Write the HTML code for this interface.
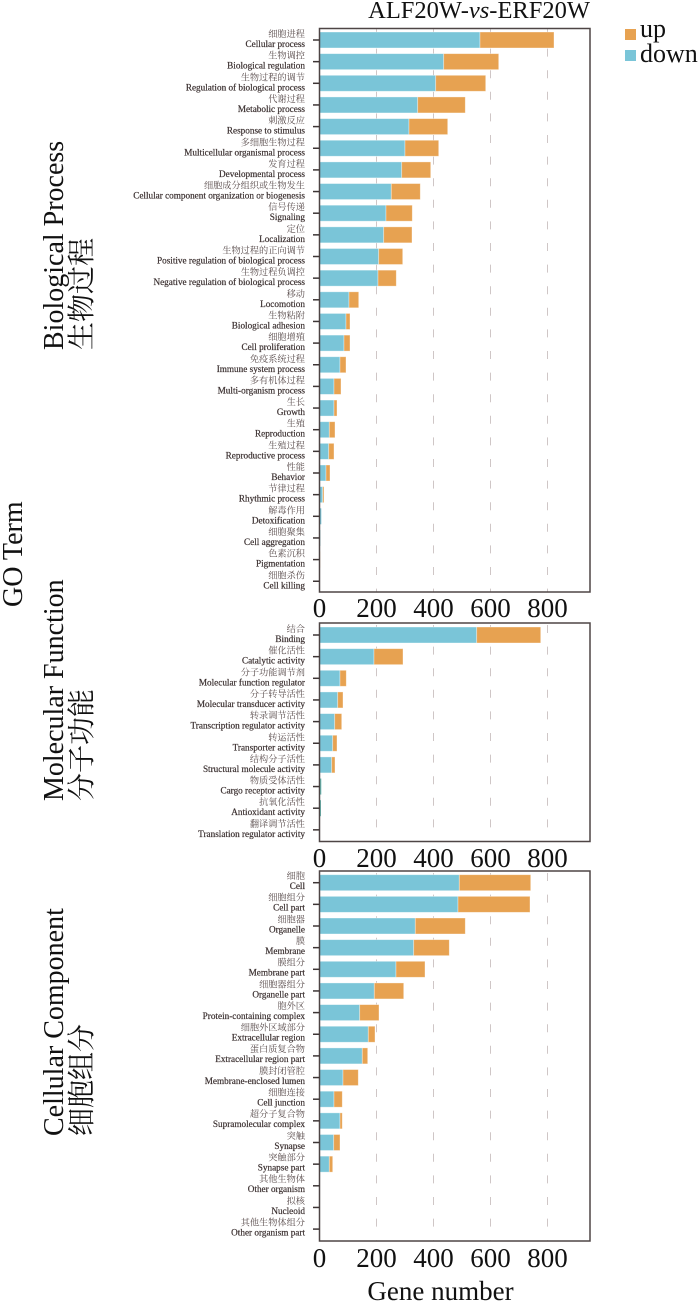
<!DOCTYPE html>
<html>
<head>
<meta charset="utf-8">
<style>
html,body{margin:0;padding:0;background:#fff;}
svg{display:block;}
.en{font-family:"Liberation Serif","Noto Serif CJK SC",serif;font-size:9.2px;fill:#3a2f2f;stroke:#3a2f2f;stroke-width:0.2px;}
.cn{font-family:"Liberation Serif","Noto Serif CJK SC",serif;font-size:9.2px;fill:#5a4d4d;}
.tk{font-family:"Liberation Serif",serif;font-size:27px;fill:#111;}
.big{font-family:"Liberation Serif","Noto Serif CJK SC",serif;font-size:28px;fill:#111;}
</style>
</head>
<body>
<svg width="700" height="1304" viewBox="0 0 700 1304" xmlns="http://www.w3.org/2000/svg">
<rect width="700" height="1304" fill="#fff"/>

<!-- Title -->
<text x="590" y="18" text-anchor="end" font-family="Liberation Serif, serif" font-size="24.5" fill="#111">ALF20W-<tspan font-style="italic">vs</tspan>-ERF20W</text>

<!-- Legend -->
<rect x="625" y="29" width="11" height="11" fill="#E7A251"/>
<text x="640" y="37" font-family="Liberation Serif, serif" font-size="26" fill="#111">up</text>
<rect x="625" y="50" width="11" height="11" fill="#7AC5D8"/>
<text x="640" y="62" font-family="Liberation Serif, serif" font-size="26" fill="#111">down</text>

<!-- Left titles -->
<text class="big" transform="translate(22,607) rotate(-90)">GO Term</text>
<text class="big" transform="translate(63,350) rotate(-90)">Biological Process</text>
<text class="big" transform="translate(91,350) rotate(-90)">生物过程</text>
<text class="big" transform="translate(63,801) rotate(-90)">Molecular Function</text>
<text class="big" transform="translate(91,801) rotate(-90)">分子功能</text>
<text class="big" transform="translate(63,1136) rotate(-90)">Cellular Component</text>
<text class="big" transform="translate(91,1136) rotate(-90)">细胞组分</text>

<!-- ========== PANEL 1 ========== -->
<g stroke="#cfc6c6" stroke-width="1" stroke-dasharray="8 13.6" stroke-dashoffset="2">
<line x1="376.5" y1="29" x2="376.5" y2="592"/>
<line x1="433.5" y1="29" x2="433.5" y2="592"/>
<line x1="490.5" y1="29" x2="490.5" y2="592"/>
<line x1="547.5" y1="29" x2="547.5" y2="592"/>
</g>
<g stroke="rgba(255,255,255,0.45)" stroke-width="0.8">
<rect x="319.5" y="32" width="160.5" height="16" fill="#7AC5D8"/><rect x="480" y="32" width="74" height="16" fill="#E7A251"/>
<rect x="319.5" y="53.65" width="124.2" height="16" fill="#7AC5D8"/><rect x="443.7" y="53.65" width="55" height="16" fill="#E7A251"/>
<rect x="319.5" y="75.3" width="116.2" height="16" fill="#7AC5D8"/><rect x="435.7" y="75.3" width="50" height="16" fill="#E7A251"/>
<rect x="319.5" y="96.95" width="98.2" height="16" fill="#7AC5D8"/><rect x="417.7" y="96.95" width="47.6" height="16" fill="#E7A251"/>
<rect x="319.5" y="118.6" width="89.5" height="16" fill="#7AC5D8"/><rect x="409" y="118.6" width="38.7" height="16" fill="#E7A251"/>
<rect x="319.5" y="140.25" width="85.5" height="16" fill="#7AC5D8"/><rect x="405" y="140.25" width="33.7" height="16" fill="#E7A251"/>
<rect x="319.5" y="161.9" width="82.2" height="16" fill="#7AC5D8"/><rect x="401.7" y="161.9" width="29" height="16" fill="#E7A251"/>
<rect x="319.5" y="183.55" width="71.8" height="16" fill="#7AC5D8"/><rect x="391.3" y="183.55" width="29" height="16" fill="#E7A251"/>
<rect x="319.5" y="205.2" width="66.5" height="16" fill="#7AC5D8"/><rect x="386" y="205.2" width="26.3" height="16" fill="#E7A251"/>
<rect x="319.5" y="226.85" width="64.2" height="16" fill="#7AC5D8"/><rect x="383.7" y="226.85" width="28.3" height="16" fill="#E7A251"/>
<rect x="319.5" y="248.5" width="59.2" height="16" fill="#7AC5D8"/><rect x="378.7" y="248.5" width="24" height="16" fill="#E7A251"/>
<rect x="319.5" y="270.15" width="58.5" height="16" fill="#7AC5D8"/><rect x="378" y="270.15" width="18.3" height="16" fill="#E7A251"/>
<rect x="319.5" y="291.8" width="29.5" height="16" fill="#7AC5D8"/><rect x="349" y="291.8" width="9.7" height="16" fill="#E7A251"/>
<rect x="319.5" y="313.45" width="26.5" height="16" fill="#7AC5D8"/><rect x="346" y="313.45" width="4" height="16" fill="#E7A251"/>
<rect x="319.5" y="335.1" width="24.5" height="16" fill="#7AC5D8"/><rect x="344" y="335.1" width="6" height="16" fill="#E7A251"/>
<rect x="319.5" y="356.75" width="20.5" height="16" fill="#7AC5D8"/><rect x="340" y="356.75" width="6" height="16" fill="#E7A251"/>
<rect x="319.5" y="378.4" width="14.5" height="16" fill="#7AC5D8"/><rect x="334" y="378.4" width="7" height="16" fill="#E7A251"/>
<rect x="319.5" y="400.05" width="14.5" height="16" fill="#7AC5D8"/><rect x="334" y="400.05" width="3" height="16" fill="#E7A251"/>
<rect x="319.5" y="421.7" width="9.8" height="16" fill="#7AC5D8"/><rect x="329.3" y="421.7" width="5.7" height="16" fill="#E7A251"/>
<rect x="319.5" y="443.35" width="9.2" height="16" fill="#7AC5D8"/><rect x="328.7" y="443.35" width="5.3" height="16" fill="#E7A251"/>
<rect x="319.5" y="465" width="6.5" height="16" fill="#7AC5D8"/><rect x="326" y="465" width="4" height="16" fill="#E7A251"/>
<rect x="319.5" y="486.65" width="3.2" height="16" fill="#7AC5D8"/><rect x="322.7" y="486.65" width="1.3" height="16" fill="#E7A251"/>
</g>
<rect x="319.5" y="508.3" width="1.8" height="16" fill="#7AC5D8"/>
<rect x="319.5" y="529.95" width="0.8" height="16" fill="#7AC5D8"/>
<rect x="319.5" y="551.6" width="0.6" height="16" fill="#E7A251"/>
<rect x="319.5" y="28.5" width="270.5" height="563.5" fill="none" stroke="#4e4545" stroke-width="1.5"/>
<g stroke="#3d3535" stroke-width="1.5">
<line x1="313" y1="40" x2="319.5" y2="40"/><line x1="313" y1="61.65" x2="319.5" y2="61.65"/><line x1="313" y1="83.3" x2="319.5" y2="83.3"/><line x1="313" y1="104.95" x2="319.5" y2="104.95"/><line x1="313" y1="126.6" x2="319.5" y2="126.6"/><line x1="313" y1="148.25" x2="319.5" y2="148.25"/><line x1="313" y1="169.9" x2="319.5" y2="169.9"/><line x1="313" y1="191.55" x2="319.5" y2="191.55"/><line x1="313" y1="213.2" x2="319.5" y2="213.2"/><line x1="313" y1="234.85" x2="319.5" y2="234.85"/><line x1="313" y1="256.5" x2="319.5" y2="256.5"/><line x1="313" y1="278.15" x2="319.5" y2="278.15"/><line x1="313" y1="299.8" x2="319.5" y2="299.8"/><line x1="313" y1="321.45" x2="319.5" y2="321.45"/><line x1="313" y1="343.1" x2="319.5" y2="343.1"/><line x1="313" y1="364.75" x2="319.5" y2="364.75"/><line x1="313" y1="386.4" x2="319.5" y2="386.4"/><line x1="313" y1="408.05" x2="319.5" y2="408.05"/><line x1="313" y1="429.7" x2="319.5" y2="429.7"/><line x1="313" y1="451.35" x2="319.5" y2="451.35"/><line x1="313" y1="473" x2="319.5" y2="473"/><line x1="313" y1="494.65" x2="319.5" y2="494.65"/><line x1="313" y1="516.3" x2="319.5" y2="516.3"/><line x1="313" y1="537.95" x2="319.5" y2="537.95"/><line x1="313" y1="559.6" x2="319.5" y2="559.6"/><line x1="313" y1="581.25" x2="319.5" y2="581.25"/>
</g>
<g text-anchor="end">
<text class="cn" x="305" y="37">细胞进程</text><text class="en" x="305" y="47">Cellular process</text>
<text class="cn" x="305" y="58.65">生物调控</text><text class="en" x="305" y="68.65">Biological regulation</text>
<text class="cn" x="305" y="80.3">生物过程的调节</text><text class="en" x="305" y="90.3">Regulation of biological process</text>
<text class="cn" x="305" y="101.95">代谢过程</text><text class="en" x="305" y="111.95">Metabolic process</text>
<text class="cn" x="305" y="123.6">刺激反应</text><text class="en" x="305" y="133.6">Response to stimulus</text>
<text class="cn" x="305" y="145.25">多细胞生物过程</text><text class="en" x="305" y="155.25">Multicellular organismal process</text>
<text class="cn" x="305" y="166.9">发育过程</text><text class="en" x="305" y="176.9">Developmental process</text>
<text class="cn" x="305" y="188.55">细胞成分组织或生物发生</text><text class="en" x="305" y="198.55">Cellular component organization or biogenesis</text>
<text class="cn" x="305" y="210.2">信号传递</text><text class="en" x="305" y="220.2">Signaling</text>
<text class="cn" x="305" y="231.85">定位</text><text class="en" x="305" y="241.85">Localization</text>
<text class="cn" x="305" y="253.5">生物过程的正向调节</text><text class="en" x="305" y="263.5">Positive regulation of biological process</text>
<text class="cn" x="305" y="275.15">生物过程负调控</text><text class="en" x="305" y="285.15">Negative regulation of biological process</text>
<text class="cn" x="305" y="296.8">移动</text><text class="en" x="305" y="306.8">Locomotion</text>
<text class="cn" x="305" y="318.45">生物粘附</text><text class="en" x="305" y="328.45">Biological adhesion</text>
<text class="cn" x="305" y="340.1">细胞增殖</text><text class="en" x="305" y="350.1">Cell proliferation</text>
<text class="cn" x="305" y="361.75">免疫系统过程</text><text class="en" x="305" y="371.75">Immune system process</text>
<text class="cn" x="305" y="383.4">多有机体过程</text><text class="en" x="305" y="393.4">Multi-organism process</text>
<text class="cn" x="305" y="405.05">生长</text><text class="en" x="305" y="415.05">Growth</text>
<text class="cn" x="305" y="426.7">生殖</text><text class="en" x="305" y="436.7">Reproduction</text>
<text class="cn" x="305" y="448.35">生殖过程</text><text class="en" x="305" y="458.35">Reproductive process</text>
<text class="cn" x="305" y="470">性能</text><text class="en" x="305" y="480">Behavior</text>
<text class="cn" x="305" y="491.65">节律过程</text><text class="en" x="305" y="501.65">Rhythmic process</text>
<text class="cn" x="305" y="513.3">解毒作用</text><text class="en" x="305" y="523.3">Detoxification</text>
<text class="cn" x="305" y="534.95">细胞聚集</text><text class="en" x="305" y="544.95">Cell aggregation</text>
<text class="cn" x="305" y="556.6">色素沉积</text><text class="en" x="305" y="566.6">Pigmentation</text>
<text class="cn" x="305" y="578.25">细胞杀伤</text><text class="en" x="305" y="588.25">Cell killing</text>
</g>
<g class="tk" text-anchor="middle">
<text class="tk" x="319.5" y="617">0</text><text class="tk" x="376.5" y="617">200</text><text class="tk" x="433.5" y="617">400</text><text class="tk" x="490.5" y="617">600</text><text class="tk" x="547.5" y="617">800</text>
</g>

<!-- ========== PANEL 2 ========== -->
<g stroke="#cfc6c6" stroke-width="1" stroke-dasharray="8 13.6" stroke-dashoffset="-2">
<line x1="376.5" y1="623" x2="376.5" y2="841.5"/>
<line x1="433.5" y1="623" x2="433.5" y2="841.5"/>
<line x1="490.5" y1="623" x2="490.5" y2="841.5"/>
<line x1="547.5" y1="623" x2="547.5" y2="841.5"/>
</g>
<g stroke="rgba(255,255,255,0.45)" stroke-width="0.8">
<rect x="319.5" y="627" width="157.2" height="16" fill="#7AC5D8"/><rect x="476.7" y="627" width="64" height="16" fill="#E7A251"/>
<rect x="319.5" y="648.65" width="54.5" height="16" fill="#7AC5D8"/><rect x="374" y="648.65" width="29" height="16" fill="#E7A251"/>
<rect x="319.5" y="670.3" width="20.5" height="16" fill="#7AC5D8"/><rect x="340" y="670.3" width="6.3" height="16" fill="#E7A251"/>
<rect x="319.5" y="691.95" width="18.2" height="16" fill="#7AC5D8"/><rect x="337.7" y="691.95" width="5.3" height="16" fill="#E7A251"/>
<rect x="319.5" y="713.6" width="15.2" height="16" fill="#7AC5D8"/><rect x="334.7" y="713.6" width="7" height="16" fill="#E7A251"/>
<rect x="319.5" y="735.25" width="13.2" height="16" fill="#7AC5D8"/><rect x="332.7" y="735.25" width="4.3" height="16" fill="#E7A251"/>
<rect x="319.5" y="756.9" width="12.2" height="16" fill="#7AC5D8"/><rect x="331.7" y="756.9" width="3.3" height="16" fill="#E7A251"/>
</g>
<rect x="319.5" y="778.55" width="1.8" height="16" fill="#6bbfb8"/>
<rect x="319.5" y="800.2" width="1.5" height="16" fill="#6bbfb8"/>
<rect x="319.5" y="623" width="270.5" height="218.5" fill="none" stroke="#4e4545" stroke-width="1.5"/>
<g stroke="#3d3535" stroke-width="1.5">
<line x1="313" y1="635" x2="319.5" y2="635"/><line x1="313" y1="656.65" x2="319.5" y2="656.65"/><line x1="313" y1="678.3" x2="319.5" y2="678.3"/><line x1="313" y1="699.95" x2="319.5" y2="699.95"/><line x1="313" y1="721.6" x2="319.5" y2="721.6"/><line x1="313" y1="743.25" x2="319.5" y2="743.25"/><line x1="313" y1="764.9" x2="319.5" y2="764.9"/><line x1="313" y1="786.55" x2="319.5" y2="786.55"/><line x1="313" y1="808.2" x2="319.5" y2="808.2"/><line x1="313" y1="829.85" x2="319.5" y2="829.85"/>
</g>
<g text-anchor="end">
<text class="cn" x="305" y="632">结合</text><text class="en" x="305" y="642">Binding</text>
<text class="cn" x="305" y="653.65">催化活性</text><text class="en" x="305" y="663.65">Catalytic activity</text>
<text class="cn" x="305" y="675.3">分子功能调节剂</text><text class="en" x="305" y="685.3">Molecular function regulator</text>
<text class="cn" x="305" y="696.95">分子转导活性</text><text class="en" x="305" y="706.95">Molecular transducer activity</text>
<text class="cn" x="305" y="718.6">转录调节活性</text><text class="en" x="305" y="728.6">Transcription regulator activity</text>
<text class="cn" x="305" y="740.25">转运活性</text><text class="en" x="305" y="750.25">Transporter activity</text>
<text class="cn" x="305" y="761.9">结构分子活性</text><text class="en" x="305" y="771.9">Structural molecule activity</text>
<text class="cn" x="305" y="783.55">物质受体活性</text><text class="en" x="305" y="793.55">Cargo receptor activity</text>
<text class="cn" x="305" y="805.2">抗氧化活性</text><text class="en" x="305" y="815.2">Antioxidant activity</text>
<text class="cn" x="305" y="826.85">翻译调节活性</text><text class="en" x="305" y="836.85">Translation regulator activity</text>
</g>
<g text-anchor="middle">
<text class="tk" x="319.5" y="867">0</text><text class="tk" x="376.5" y="867">200</text><text class="tk" x="433.5" y="867">400</text><text class="tk" x="490.5" y="867">600</text><text class="tk" x="547.5" y="867">800</text>
</g>

<!-- ========== PANEL 3 ========== -->
<g stroke="#cfc6c6" stroke-width="1" stroke-dasharray="8 13.6" stroke-dashoffset="-2">
<line x1="376.5" y1="871" x2="376.5" y2="1241"/>
<line x1="433.5" y1="871" x2="433.5" y2="1241"/>
<line x1="490.5" y1="871" x2="490.5" y2="1241"/>
<line x1="547.5" y1="871" x2="547.5" y2="1241"/>
</g>
<g stroke="rgba(255,255,255,0.45)" stroke-width="0.8">
<rect x="319.5" y="874.7" width="139.8" height="16" fill="#7AC5D8"/><rect x="459.3" y="874.7" width="71.4" height="16" fill="#E7A251"/>
<rect x="319.5" y="896.35" width="138.5" height="16" fill="#7AC5D8"/><rect x="458" y="896.35" width="72" height="16" fill="#E7A251"/>
<rect x="319.5" y="918" width="95.8" height="16" fill="#7AC5D8"/><rect x="415.3" y="918" width="50" height="16" fill="#E7A251"/>
<rect x="319.5" y="939.65" width="94.2" height="16" fill="#7AC5D8"/><rect x="413.7" y="939.65" width="35.6" height="16" fill="#E7A251"/>
<rect x="319.5" y="961.3" width="76.5" height="16" fill="#7AC5D8"/><rect x="396" y="961.3" width="29" height="16" fill="#E7A251"/>
<rect x="319.5" y="982.95" width="54.8" height="16" fill="#7AC5D8"/><rect x="374.3" y="982.95" width="29.4" height="16" fill="#E7A251"/>
<rect x="319.5" y="1004.6" width="40.2" height="16" fill="#7AC5D8"/><rect x="359.7" y="1004.6" width="19.3" height="16" fill="#E7A251"/>
<rect x="319.5" y="1026.25" width="48.8" height="16" fill="#7AC5D8"/><rect x="368.3" y="1026.25" width="6.7" height="16" fill="#E7A251"/>
<rect x="319.5" y="1047.9" width="42.8" height="16" fill="#7AC5D8"/><rect x="362.3" y="1047.9" width="5.4" height="16" fill="#E7A251"/>
<rect x="319.5" y="1069.55" width="23.5" height="16" fill="#7AC5D8"/><rect x="343" y="1069.55" width="15.3" height="16" fill="#E7A251"/>
<rect x="319.5" y="1091.2" width="14.5" height="16" fill="#7AC5D8"/><rect x="334" y="1091.2" width="8.3" height="16" fill="#E7A251"/>
<rect x="319.5" y="1112.85" width="20.5" height="16" fill="#7AC5D8"/><rect x="340" y="1112.85" width="2.3" height="16" fill="#E7A251"/>
<rect x="319.5" y="1134.5" width="14.2" height="16" fill="#7AC5D8"/><rect x="333.7" y="1134.5" width="6.3" height="16" fill="#E7A251"/>
<rect x="319.5" y="1156.15" width="9.8" height="16" fill="#7AC5D8"/><rect x="329.3" y="1156.15" width="3.4" height="16" fill="#E7A251"/>
</g>
<rect x="319.5" y="871" width="270.5" height="370" fill="none" stroke="#4e4545" stroke-width="1.5"/>
<g stroke="#3d3535" stroke-width="1.5">
<line x1="313" y1="882.7" x2="319.5" y2="882.7"/><line x1="313" y1="904.35" x2="319.5" y2="904.35"/><line x1="313" y1="926" x2="319.5" y2="926"/><line x1="313" y1="947.65" x2="319.5" y2="947.65"/><line x1="313" y1="969.3" x2="319.5" y2="969.3"/><line x1="313" y1="990.95" x2="319.5" y2="990.95"/><line x1="313" y1="1012.6" x2="319.5" y2="1012.6"/><line x1="313" y1="1034.25" x2="319.5" y2="1034.25"/><line x1="313" y1="1055.9" x2="319.5" y2="1055.9"/><line x1="313" y1="1077.55" x2="319.5" y2="1077.55"/><line x1="313" y1="1099.2" x2="319.5" y2="1099.2"/><line x1="313" y1="1120.85" x2="319.5" y2="1120.85"/><line x1="313" y1="1142.5" x2="319.5" y2="1142.5"/><line x1="313" y1="1164.15" x2="319.5" y2="1164.15"/><line x1="313" y1="1185.8" x2="319.5" y2="1185.8"/><line x1="313" y1="1207.45" x2="319.5" y2="1207.45"/><line x1="313" y1="1229.1" x2="319.5" y2="1229.1"/>
</g>
<g text-anchor="end">
<text class="cn" x="305" y="879">细胞</text><text class="en" x="305" y="889">Cell</text>
<text class="cn" x="305" y="900.65">细胞组分</text><text class="en" x="305" y="910.65">Cell part</text>
<text class="cn" x="305" y="922.3">细胞器</text><text class="en" x="305" y="932.3">Organelle</text>
<text class="cn" x="305" y="943.95">膜</text><text class="en" x="305" y="953.95">Membrane</text>
<text class="cn" x="305" y="965.6">膜组分</text><text class="en" x="305" y="975.6">Membrane part</text>
<text class="cn" x="305" y="987.25">细胞器组分</text><text class="en" x="305" y="997.25">Organelle part</text>
<text class="cn" x="305" y="1008.9">胞外区</text><text class="en" x="305" y="1018.9">Protein-containing complex</text>
<text class="cn" x="305" y="1030.55">细胞外区域部分</text><text class="en" x="305" y="1040.55">Extracellular region</text>
<text class="cn" x="305" y="1052.2">蛋白质复合物</text><text class="en" x="305" y="1062.2">Extracellular region part</text>
<text class="cn" x="305" y="1073.85">膜封闭管腔</text><text class="en" x="305" y="1083.85">Membrane-enclosed lumen</text>
<text class="cn" x="305" y="1095.5">细胞连接</text><text class="en" x="305" y="1105.5">Cell junction</text>
<text class="cn" x="305" y="1117.15">超分子复合物</text><text class="en" x="305" y="1127.15">Supramolecular complex</text>
<text class="cn" x="305" y="1138.8">突触</text><text class="en" x="305" y="1148.8">Synapse</text>
<text class="cn" x="305" y="1160.45">突触部分</text><text class="en" x="305" y="1170.45">Synapse part</text>
<text class="cn" x="305" y="1182.1">其他生物体</text><text class="en" x="305" y="1192.1">Other organism</text>
<text class="cn" x="305" y="1203.75">拟核</text><text class="en" x="305" y="1213.75">Nucleoid</text>
<text class="cn" x="305" y="1225.4">其他生物体组分</text><text class="en" x="305" y="1235.4">Other organism part</text>
</g>
<g text-anchor="middle">
<text class="tk" x="319.5" y="1267">0</text><text class="tk" x="376.5" y="1267">200</text><text class="tk" x="433.5" y="1267">400</text><text class="tk" x="490.5" y="1267">600</text><text class="tk" x="547.5" y="1267">800</text>
</g>
<text x="440.5" y="1300" text-anchor="middle" font-family="Liberation Serif, serif" font-size="27" fill="#111">Gene number</text>
</svg>
</body>
</html>
